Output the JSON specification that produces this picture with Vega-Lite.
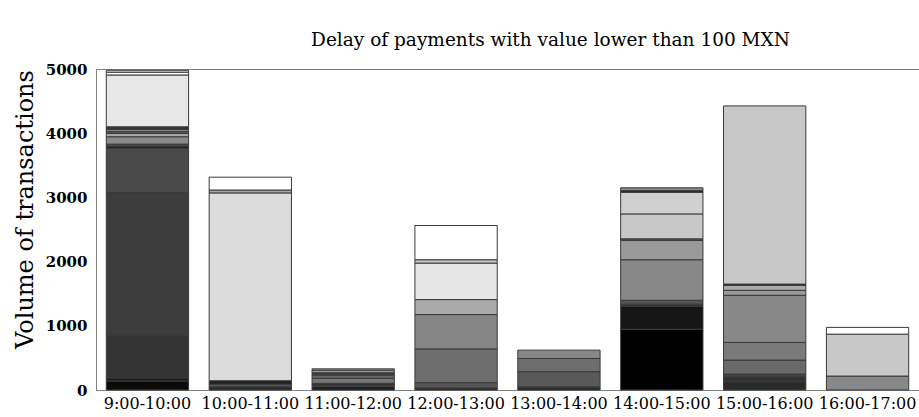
{
  "$schema": "https://vega.github.io/schema/vega-lite/v6.json",
  "width": 823,
  "height": 321,
  "autosize": "none",
  "padding": {"left": 96, "top": 69, "right": 0, "bottom": 27},
  "background": "white",
  "view": {"stroke": "#808080", "strokeWidth": 1},
  "title": {
    "text": "Delay of payments with value lower than 100 MXN",
    "font": "DejaVu Serif",
    "fontSize": 18.5,
    "fontWeight": "normal",
    "color": "#000000",
    "anchor": "middle",
    "dx": 43,
    "offset": 13
  },
  "data": {
    "values": [
      {"slot": "9:00-10:00", "seg": 1, "value": 140, "shade": "#0a0a0a"},
      {"slot": "9:00-10:00", "seg": 2, "value": 50, "shade": "#1e1e1e"},
      {"slot": "9:00-10:00", "seg": 3, "value": 660, "shade": "#333333"},
      {"slot": "9:00-10:00", "seg": 4, "value": 2225, "shade": "#3d3d3d"},
      {"slot": "9:00-10:00", "seg": 5, "value": 690, "shade": "#4a4a4a"},
      {"slot": "9:00-10:00", "seg": 6, "value": 35, "shade": "#222222"},
      {"slot": "9:00-10:00", "seg": 7, "value": 30, "shade": "#5a5a5a"},
      {"slot": "9:00-10:00", "seg": 8, "value": 115, "shade": "#8a8a8a"},
      {"slot": "9:00-10:00", "seg": 9, "value": 50, "shade": "#a8a8a8"},
      {"slot": "9:00-10:00", "seg": 10, "value": 35, "shade": "#555555"},
      {"slot": "9:00-10:00", "seg": 11, "value": 30, "shade": "#999999"},
      {"slot": "9:00-10:00", "seg": 12, "value": 40, "shade": "#333333"},
      {"slot": "9:00-10:00", "seg": 13, "value": 807, "shade": "#e8e8e8"},
      {"slot": "9:00-10:00", "seg": 14, "value": 43, "shade": "#ffffff"},
      {"slot": "9:00-10:00", "seg": 15, "value": 30, "shade": "#dddddd"},
      {"slot": "10:00-11:00", "seg": 1, "value": 50, "shade": "#2a2a2a"},
      {"slot": "10:00-11:00", "seg": 2, "value": 40, "shade": "#555555"},
      {"slot": "10:00-11:00", "seg": 3, "value": 55, "shade": "#222222"},
      {"slot": "10:00-11:00", "seg": 4, "value": 2925, "shade": "#dcdcdc"},
      {"slot": "10:00-11:00", "seg": 5, "value": 45, "shade": "#aaaaaa"},
      {"slot": "10:00-11:00", "seg": 6, "value": 200, "shade": "#ffffff"},
      {"slot": "11:00-12:00", "seg": 1, "value": 52, "shade": "#1e1e1e"},
      {"slot": "11:00-12:00", "seg": 2, "value": 26, "shade": "#555555"},
      {"slot": "11:00-12:00", "seg": 3, "value": 26, "shade": "#2a2a2a"},
      {"slot": "11:00-12:00", "seg": 4, "value": 78, "shade": "#777777"},
      {"slot": "11:00-12:00", "seg": 5, "value": 51, "shade": "#666666"},
      {"slot": "11:00-12:00", "seg": 6, "value": 36, "shade": "#444444"},
      {"slot": "11:00-12:00", "seg": 7, "value": 41, "shade": "#999999"},
      {"slot": "11:00-12:00", "seg": 8, "value": 20, "shade": "#bbbbbb"},
      {"slot": "12:00-13:00", "seg": 1, "value": 30, "shade": "#222222"},
      {"slot": "12:00-13:00", "seg": 2, "value": 85, "shade": "#555555"},
      {"slot": "12:00-13:00", "seg": 3, "value": 525, "shade": "#6e6e6e"},
      {"slot": "12:00-13:00", "seg": 4, "value": 535, "shade": "#868686"},
      {"slot": "12:00-13:00", "seg": 5, "value": 233, "shade": "#aaaaaa"},
      {"slot": "12:00-13:00", "seg": 6, "value": 569, "shade": "#e6e6e6"},
      {"slot": "12:00-13:00", "seg": 7, "value": 52, "shade": "#c8c8c8"},
      {"slot": "12:00-13:00", "seg": 8, "value": 533, "shade": "#ffffff"},
      {"slot": "13:00-14:00", "seg": 1, "value": 36, "shade": "#222222"},
      {"slot": "13:00-14:00", "seg": 2, "value": 16, "shade": "#444444"},
      {"slot": "13:00-14:00", "seg": 3, "value": 233, "shade": "#595959"},
      {"slot": "13:00-14:00", "seg": 4, "value": 206, "shade": "#6e6e6e"},
      {"slot": "13:00-14:00", "seg": 5, "value": 130, "shade": "#888888"},
      {"slot": "14:00-15:00", "seg": 1, "value": 947, "shade": "#000000"},
      {"slot": "14:00-15:00", "seg": 2, "value": 357, "shade": "#151515"},
      {"slot": "14:00-15:00", "seg": 3, "value": 31, "shade": "#333333"},
      {"slot": "14:00-15:00", "seg": 4, "value": 63, "shade": "#555555"},
      {"slot": "14:00-15:00", "seg": 5, "value": 631, "shade": "#888888"},
      {"slot": "14:00-15:00", "seg": 6, "value": 300, "shade": "#999999"},
      {"slot": "14:00-15:00", "seg": 7, "value": 26, "shade": "#555555"},
      {"slot": "14:00-15:00", "seg": 8, "value": 388, "shade": "#c8c8c8"},
      {"slot": "14:00-15:00", "seg": 9, "value": 337, "shade": "#d0d0d0"},
      {"slot": "14:00-15:00", "seg": 10, "value": 25, "shade": "#222222"},
      {"slot": "14:00-15:00", "seg": 11, "value": 45, "shade": "#888888"},
      {"slot": "15:00-16:00", "seg": 1, "value": 130, "shade": "#2a2a2a"},
      {"slot": "15:00-16:00", "seg": 2, "value": 77, "shade": "#333333"},
      {"slot": "15:00-16:00", "seg": 3, "value": 41, "shade": "#444444"},
      {"slot": "15:00-16:00", "seg": 4, "value": 218, "shade": "#6a6a6a"},
      {"slot": "15:00-16:00", "seg": 5, "value": 275, "shade": "#7a7a7a"},
      {"slot": "15:00-16:00", "seg": 6, "value": 734, "shade": "#888888"},
      {"slot": "15:00-16:00", "seg": 7, "value": 78, "shade": "#999999"},
      {"slot": "15:00-16:00", "seg": 8, "value": 77, "shade": "#aaaaaa"},
      {"slot": "15:00-16:00", "seg": 9, "value": 20, "shade": "#333333"},
      {"slot": "15:00-16:00", "seg": 10, "value": 2775, "shade": "#c8c8c8"},
      {"slot": "16:00-17:00", "seg": 1, "value": 217, "shade": "#888888"},
      {"slot": "16:00-17:00", "seg": 2, "value": 653, "shade": "#c8c8c8"},
      {"slot": "16:00-17:00", "seg": 3, "value": 105, "shade": "#ffffff"}
    ]
  },
  "mark": {"type": "bar", "stroke": "#3a3a3a", "strokeWidth": 1},
  "encoding": {
    "x": {
      "field": "slot",
      "type": "nominal",
      "sort": ["9:00-10:00", "10:00-11:00", "11:00-12:00", "12:00-13:00", "13:00-14:00", "14:00-15:00", "15:00-16:00", "16:00-17:00"],
      "scale": {"paddingInner": 0.2, "paddingOuter": 0.1},
      "axis": {
        "title": null,
        "labelAngle": 0,
        "labelFont": "DejaVu Serif",
        "labelFontSize": 16,
        "labelColor": "#000000",
        "labelPadding": 5,
        "ticks": false,
        "domainColor": "#808080",
        "grid": false
      }
    },
    "y": {
      "field": "value",
      "type": "quantitative",
      "stack": "zero",
      "scale": {"domain": [0, 5000], "nice": false},
      "axis": {
        "title": "Volume of transactions",
        "titleFont": "DejaVu Serif",
        "titleFontSize": 24,
        "titleFontWeight": "normal",
        "titleColor": "#000000",
        "titlePadding": 8,
        "titleY": 140,
        "values": [0, 1000, 2000, 3000, 4000, 5000],
        "format": "d",
        "labelFont": "DejaVu Serif",
        "labelFontSize": 15,
        "labelFontWeight": "bold",
        "labelColor": "#000000",
        "labelPadding": 9,
        "ticks": false,
        "domainColor": "#808080",
        "grid": false
      }
    },
    "color": {"field": "shade", "type": "nominal", "scale": null},
    "order": {"field": "seg", "type": "quantitative"}
  }
}
